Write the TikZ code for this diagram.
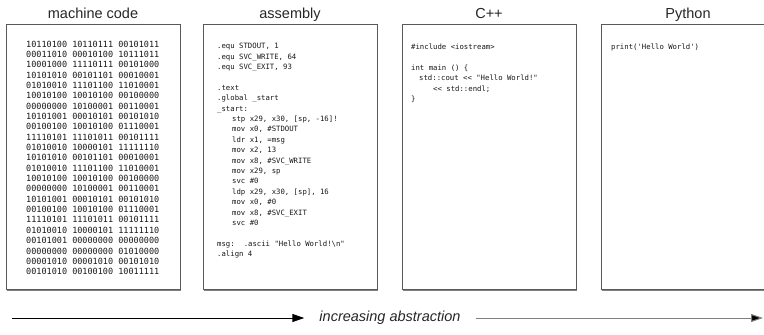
\documentclass[tikz,border=0pt]{standalone}
\usepackage{fontspec}
\setmainfont{Liberation Sans}
\setmonofont{DejaVu Sans Mono}
\usetikzlibrary{arrows.meta,shadows}
\begin{document}
\begin{tikzpicture}[x=1pt,y=-1pt,
  panel/.style={draw=black!65, line width=0.9pt, fill=white,
    minimum width=174pt, minimum height=265pt, inner sep=0pt, anchor=north west,
    drop shadow={shadow xshift=1pt, shadow yshift=-1.2pt, opacity=0.7, fill=black!70}},
  title/.style={font=\fontsize{14.5}{16}\selectfont, anchor=base, text=black!85, inner sep=0pt},
  bincode/.style={font=\ttfamily\fontsize{8.5}{10.35}\selectfont, align=left,
    anchor=north west, inner sep=0pt, text=black!90},
  srccode/.style={font=\ttfamily\fontsize{7.3}{10.4}\selectfont, align=left,
    anchor=north west, inner sep=0pt, text=black!90},
  axis/.style={line width=1pt, -{Triangle[length=12pt,width=8pt]}}]
\useasboundingbox (0,0) rectangle (764,335);
\clip (0,0) rectangle (764,335);

% four panels
\node[panel] (mc)  at (6,24)   {};
\node[panel] (asm) at (203,24) {};
\node[panel] (cpp) at (402,24) {};
\node[panel] (py)  at (601,24) {};

% panel headings
\node[title] (tmc)  at (93,18)  {machine code};
\node[title] (tasm) at (290,18) {assembly};
\node[title] (tcpp) at (489,18) {C++};
\node[title] (tpy)  at (688,18) {Python};

% machine code listing
\node[bincode] (bin) at (26,40.5) {%
10110100 10110111 00101011\\
00011010 00010100 10111011\\
10001000 11110111 00101000\\
10101010 00101101 00010001\\
01010010 11101100 11010001\\
10010100 10010100 00100000\\
00000000 10100001 00110001\\
10101001 00010101 00101010\\
00100100 10010100 01110001\\
11110101 11101011 00101111\\
01010010 10000101 11111110\\
10101010 00101101 00010001\\
01010010 11101100 11010001\\
10010100 10010100 00100000\\
00000000 10100001 00110001\\
10101001 00010101 00101010\\
00100100 10010100 01110001\\
11110101 11101011 00101111\\
01010010 10000101 11111110\\
00101001 00000000 00000000\\
00000000 00000000 01010000\\
00001010 00001010 00101010\\
00101010 00100100 10011111};

% assembly listing
\node[srccode] (asmtxt) at (217,43) {%
.equ STDOUT, 1\\
.equ SVC\_WRITE, 64\\
.equ SVC\_EXIT, 93\\
~\\
.text\\
.global \_start\\
\_start:\\
\hspace*{15pt}stp x29, x30, [sp, -16]!\\
\hspace*{15pt}mov x0, \#STDOUT\\
\hspace*{15pt}ldr x1, =msg\\
\hspace*{15pt}mov x2, 13\\
\hspace*{15pt}mov x8, \#SVC\_WRITE\\
\hspace*{15pt}mov x29, sp\\
\hspace*{15pt}svc \#0\\
\hspace*{15pt}ldp x29, x30, [sp], 16\\
\hspace*{15pt}mov x0, \#0\\
\hspace*{15pt}mov x8, \#SVC\_EXIT\\
\hspace*{15pt}svc \#0\\
~\\
msg:\hspace*{9pt}.ascii "Hello World!\textbackslash n"\\
.align 4};

% C++ listing
\node[srccode] (cpptxt) at (411,44) {%
\#include <iostream>\\
~\\
int main () \{\\
\hspace*{8pt}std::cout << "Hello World!"\\
\hspace*{22pt}<< std::endl;\\
\}};

% Python listing
\node[srccode] (pytxt) at (611,44) {print('Hello World')};

% abstraction axis
\coordinate (ax0) at (12,318);
\coordinate (ax1) at (763,318);
\node[font=\itshape\fontsize{14.5}{16}\selectfont, text=black!85, inner xsep=15pt]
  (lbl) at (390,318) {increasing abstraction};
\draw[axis, draw=black] (ax0) -- (lbl.west);
\draw[axis, draw=black!50, -{Triangle[length=12pt,width=8pt,fill=black]}] (lbl.east) -- (ax1);
\end{tikzpicture}
\end{document}
